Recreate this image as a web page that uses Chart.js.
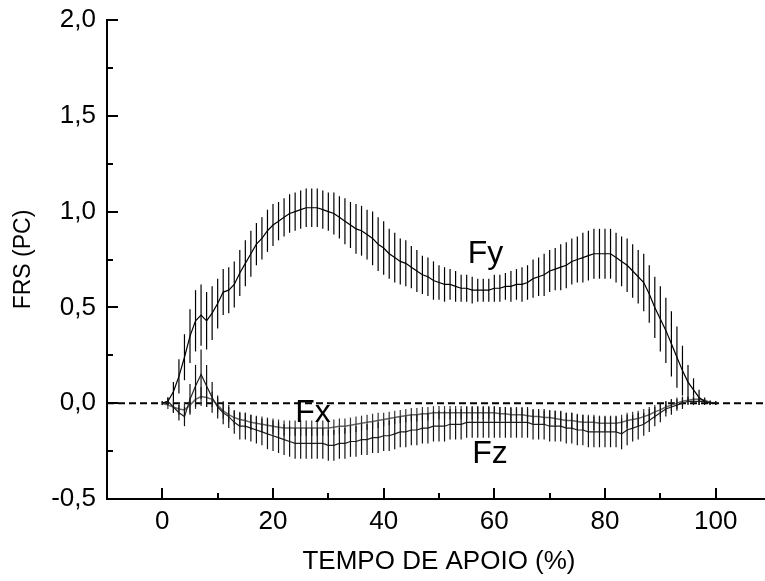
<!DOCTYPE html>
<html>
<head>
<meta charset="utf-8">
<script src="https://cdn.jsdelivr.net/npm/chart.js@4.4.1/dist/chart.umd.min.js"></script>
<style>
  body { margin: 0; overflow: hidden; background: #fff; }
</style>
</head>
<body>
<canvas id="myChart" width="780" height="581"></canvas>
<script>
// stance phase, 0..100 %
const stance = Array.from({length: 101}, (_, i) => i);

const fyMean = [
  0.00, 0.01, 0.06, 0.14, 0.24, 0.35, 0.43, 0.46, 0.43, 0.47,
  0.52, 0.58, 0.59, 0.62, 0.68, 0.73, 0.78, 0.83, 0.86, 0.90,
  0.93, 0.95, 0.97, 0.99, 1.00, 1.01, 1.02, 1.02, 1.02, 1.01,
  1.00, 0.99, 0.97, 0.95, 0.93, 0.91, 0.90, 0.88, 0.86, 0.83,
  0.81, 0.78, 0.76, 0.74, 0.73, 0.71, 0.69, 0.67, 0.66, 0.64,
  0.63, 0.62, 0.62, 0.61, 0.60, 0.60, 0.59, 0.59, 0.59, 0.59,
  0.60, 0.60, 0.61, 0.61, 0.62, 0.62, 0.63, 0.65, 0.66, 0.67,
  0.69, 0.70, 0.71, 0.72, 0.74, 0.75, 0.76, 0.77, 0.78, 0.78,
  0.78, 0.78, 0.76, 0.74, 0.72, 0.69, 0.66, 0.63, 0.57, 0.50,
  0.44, 0.38, 0.31, 0.24, 0.17, 0.11, 0.07, 0.03, 0.01, 0.00,
  0.00
];
const fySd = [
  0.01, 0.02, 0.05, 0.09, 0.12, 0.14, 0.16, 0.16, 0.15, 0.14,
  0.13, 0.12, 0.12, 0.12, 0.12, 0.12, 0.12, 0.11, 0.11, 0.11,
  0.11, 0.10, 0.10, 0.10, 0.10, 0.10, 0.10, 0.10, 0.10, 0.10,
  0.10, 0.11, 0.11, 0.12, 0.12, 0.13, 0.13, 0.13, 0.14, 0.14,
  0.14, 0.13, 0.13, 0.12, 0.12, 0.11, 0.11, 0.10, 0.10, 0.10,
  0.09, 0.09, 0.08, 0.08, 0.07, 0.07, 0.07, 0.06, 0.06, 0.06,
  0.07, 0.07, 0.07, 0.08, 0.08, 0.09, 0.09, 0.10, 0.10, 0.11,
  0.11, 0.11, 0.12, 0.12, 0.12, 0.12, 0.13, 0.13, 0.13, 0.13,
  0.13, 0.13, 0.13, 0.13, 0.14, 0.14, 0.14, 0.15, 0.15, 0.16,
  0.17, 0.17, 0.17, 0.16, 0.13, 0.09, 0.06, 0.04, 0.02, 0.01,
  0.01
];

const fxMean = [
  0.00, -0.01, -0.02, -0.03, -0.035, -0.01, 0.02, 0.035, 0.03, 0.02,
  -0.01, -0.04, -0.06, -0.075, -0.085, -0.09, -0.10, -0.105, -0.11, -0.115,
  -0.12, -0.125, -0.13, -0.13, -0.13, -0.13, -0.13, -0.13, -0.13, -0.13,
  -0.13, -0.125, -0.12, -0.12, -0.115, -0.11, -0.105, -0.10, -0.095, -0.09,
  -0.085, -0.08, -0.075, -0.07, -0.065, -0.06, -0.06, -0.055, -0.055, -0.05,
  -0.05, -0.05, -0.05, -0.05, -0.05, -0.05, -0.05, -0.05, -0.05, -0.05,
  -0.05, -0.055, -0.055, -0.06, -0.06, -0.06, -0.065, -0.07, -0.07, -0.075,
  -0.075, -0.08, -0.085, -0.09, -0.09, -0.095, -0.10, -0.10, -0.10, -0.105,
  -0.105, -0.105, -0.105, -0.10, -0.09, -0.085, -0.08, -0.07, -0.06, -0.045,
  -0.035, -0.02, -0.01, 0.00, 0.01, 0.015, 0.02, 0.02, 0.015, 0.005,
  0.00
];
const fxSd = [
  0.01, 0.02, 0.03, 0.03, 0.04, 0.04, 0.05, 0.05, 0.05, 0.04,
  0.04, 0.04, 0.04, 0.04, 0.04, 0.04, 0.04, 0.04, 0.04, 0.04,
  0.04, 0.04, 0.04, 0.04, 0.04, 0.04, 0.04, 0.04, 0.04, 0.04,
  0.04, 0.04, 0.04, 0.04, 0.04, 0.04, 0.04, 0.04, 0.04, 0.04,
  0.035, 0.035, 0.035, 0.035, 0.035, 0.035, 0.035, 0.035, 0.035, 0.035,
  0.035, 0.035, 0.035, 0.035, 0.035, 0.035, 0.035, 0.035, 0.035, 0.035,
  0.035, 0.035, 0.035, 0.035, 0.035, 0.035, 0.035, 0.035, 0.035, 0.035,
  0.04, 0.04, 0.04, 0.04, 0.04, 0.04, 0.04, 0.04, 0.04, 0.04,
  0.04, 0.04, 0.04, 0.04, 0.04, 0.04, 0.04, 0.04, 0.04, 0.035,
  0.035, 0.03, 0.03, 0.03, 0.025, 0.02, 0.02, 0.015, 0.01, 0.01,
  0.01
];

const fzMean = [
  0.00, 0.01, -0.02, -0.05, -0.07, 0.02, 0.09, 0.15, 0.09, 0.03,
  -0.02, -0.05, -0.07, -0.10, -0.12, -0.12, -0.13, -0.14, -0.15, -0.16,
  -0.17, -0.18, -0.19, -0.20, -0.21, -0.21, -0.21, -0.21, -0.21, -0.21,
  -0.22, -0.22, -0.21, -0.21, -0.20, -0.20, -0.19, -0.19, -0.18, -0.18,
  -0.17, -0.17, -0.16, -0.15, -0.15, -0.14, -0.14, -0.13, -0.13, -0.12,
  -0.12, -0.12, -0.11, -0.11, -0.11, -0.10, -0.10, -0.10, -0.10, -0.10,
  -0.10, -0.10, -0.10, -0.10, -0.10, -0.10, -0.10, -0.11, -0.11, -0.11,
  -0.12, -0.12, -0.12, -0.13, -0.13, -0.14, -0.14, -0.15, -0.15, -0.15,
  -0.15, -0.15, -0.15, -0.16, -0.14, -0.13, -0.12, -0.11, -0.09, -0.07,
  -0.05, -0.03, -0.02, -0.01, 0.00, 0.01, 0.01, 0.01, 0.01, 0.00,
  0.00
];
const fzSd = [
  0.01, 0.02, 0.03, 0.04, 0.05, 0.08, 0.11, 0.13, 0.11, 0.08,
  0.06, 0.06, 0.06, 0.06, 0.07, 0.07, 0.07, 0.07, 0.07, 0.08,
  0.08, 0.08, 0.08, 0.08, 0.08, 0.08, 0.08, 0.08, 0.08, 0.08,
  0.08, 0.08, 0.08, 0.08, 0.08, 0.08, 0.08, 0.08, 0.08, 0.08,
  0.08, 0.08, 0.08, 0.08, 0.08, 0.08, 0.08, 0.08, 0.08, 0.08,
  0.08, 0.08, 0.08, 0.08, 0.08, 0.08, 0.08, 0.08, 0.08, 0.08,
  0.08, 0.08, 0.08, 0.08, 0.08, 0.08, 0.08, 0.08, 0.08, 0.08,
  0.08, 0.08, 0.08, 0.08, 0.08, 0.08, 0.08, 0.08, 0.08, 0.08,
  0.08, 0.08, 0.08, 0.08, 0.08, 0.07, 0.07, 0.06, 0.06, 0.05,
  0.05, 0.04, 0.04, 0.03, 0.03, 0.02, 0.02, 0.02, 0.01, 0.01,
  0.01
];

const xTicks = [0, 20, 40, 60, 80, 100];
const xMinor = [10, 30, 50, 70, 90];
const yTicks = [-0.5, 0, 0.5, 1, 1.5, 2];
const yTickLabels = ['-0,5', '0,0', '0,5', '1,0', '1,5', '2,0'];
const yMinor = [-0.25, 0.25, 0.75, 1.25, 1.75];

// curve names, placed in data units
const curveLabels = [
  {text: 'Fy', x: 55.2, y: 0.73},
  {text: 'Fx', x: 24.0, y: -0.10},
  {text: 'Fz', x: 56.0, y: -0.314}
];

Chart.defaults.font.family = '"Liberation Sans", Arial, sans-serif';
Chart.defaults.color = '#000';

function toPoints(values) {
  return stance.map((x, i) => ({x: x, y: values[i]}));
}

const errorBars = {
  id: 'errorBars',
  afterDatasetsDraw(chart) {
    const ctx = chart.ctx;
    const yScale = chart.scales.y;
    chart.data.datasets.forEach((ds, di) => {
      if (!ds.sd) return;
      const meta = chart.getDatasetMeta(di);
      ctx.save();
      ctx.strokeStyle = ds.barColor;
      ctx.lineWidth = 1.2;
      meta.data.forEach((pt, i) => {
        const m = ds.data[i].y;
        const top = yScale.getPixelForValue(m + ds.sd[i]);
        const bot = yScale.getPixelForValue(m - ds.sd[i]);
        ctx.beginPath();
        ctx.moveTo(pt.x, top);
        ctx.lineTo(pt.x, bot);
        ctx.stroke();
      });
      ctx.restore();
    });
  }
};

const extras = {
  id: 'extras',
  afterDraw(chart) {
    const ctx = chart.ctx;
    const xs = chart.scales.x, ys = chart.scales.y;
    const area = chart.chartArea;
    ctx.save();
    ctx.strokeStyle = '#000';
    ctx.lineWidth = 2;
    const tick = (x1, y1, x2, y2) => {
      ctx.beginPath(); ctx.moveTo(x1, y1); ctx.lineTo(x2, y2); ctx.stroke();
    };
    xTicks.forEach(v => { const p = Math.round(xs.getPixelForValue(v)); tick(p, area.bottom, p, area.bottom - 11); });
    xMinor.forEach(v => { const p = Math.round(xs.getPixelForValue(v)); tick(p, area.bottom, p, area.bottom - 6); });
    yTicks.forEach(v => { const p = Math.round(ys.getPixelForValue(v)); tick(area.left, p, area.left + 11, p); });
    yMinor.forEach(v => { const p = Math.round(ys.getPixelForValue(v)); tick(area.left, p, area.left + 6, p); });

    ctx.fillStyle = '#000';
    ctx.font = '32px "Liberation Sans", Arial, sans-serif';
    ctx.textAlign = 'left';
    ctx.textBaseline = 'alphabetic';
    curveLabels.forEach(l => {
      ctx.fillText(l.text, xs.getPixelForValue(l.x), ys.getPixelForValue(l.y));
    });
    ctx.restore();
  }
};

new Chart('myChart', {
  type: 'line',
  data: {
    datasets: [{
      label: 'zero',
      data: [{x: -10, y: 0}, {x: 110, y: 0}],
      borderColor: '#000',
      borderWidth: 2,
      borderDash: [7, 4],
      pointRadius: 0,
      order: 4
    }, {
      label: 'Fy',
      data: toPoints(fyMean),
      sd: fySd,
      barColor: '#000',
      borderColor: '#000',
      borderWidth: 1.2,
      pointRadius: 0,
      order: 1
    }, {
      label: 'Fx',
      data: toPoints(fxMean),
      sd: fxSd,
      barColor: '#333',
      borderColor: '#666',
      borderWidth: 1.5,
      pointRadius: 0,
      order: 3
    }, {
      label: 'Fz',
      data: toPoints(fzMean),
      sd: fzSd,
      barColor: '#111',
      borderColor: '#222',
      borderWidth: 1.2,
      pointRadius: 0,
      order: 2
    }]
  },
  options: {
    responsive: false,
    animation: false,
    devicePixelRatio: 1,
    layout: {padding: {top: 20, right: 9, left: 0, bottom: 0}},
    plugins: {legend: {display: false}, tooltip: {enabled: false}},
    elements: {line: {tension: 0}},
    scales: {
      x: {
        type: 'linear',
        min: -10,
        max: 110,
        grid: {display: false, drawTicks: false},
        border: {display: true, color: '#000', width: 2},
        afterBuildTicks: s => { s.ticks = xTicks.map(v => ({value: v})); },
        afterFit: s => { s.height = 82; s.paddingLeft = 0; s.paddingRight = 0; },
        ticks: {
          font: {size: 26},
          color: '#000',
          padding: 7,
          maxRotation: 0,
          autoSkip: false,
          callback: v => String(v)
        },
        title: {
          display: true,
          text: 'TEMPO DE APOIO (%)',
          font: {size: 26},
          color: '#000',
          padding: {top: 0, bottom: 4}
        }
      },
      y: {
        type: 'linear',
        min: -0.5,
        max: 2,
        grid: {display: false, drawTicks: false},
        border: {display: true, color: '#000', width: 2},
        afterBuildTicks: s => { s.ticks = yTicks.map(v => ({value: v})); },
        afterFit: s => { s.width = 107; s.paddingTop = 0; s.paddingBottom = 0; },
        ticks: {
          font: {size: 26},
          color: '#000',
          padding: 11,
          autoSkip: false,
          callback: v => yTickLabels[yTicks.indexOf(v)]
        },
        title: {
          display: true,
          text: 'FRS (PC)',
          font: {size: 23},
          color: '#000',
          padding: {top: 10, bottom: 0}
        }
      }
    }
  },
  plugins: [errorBars, extras]
});
</script>
</body>
</html>
